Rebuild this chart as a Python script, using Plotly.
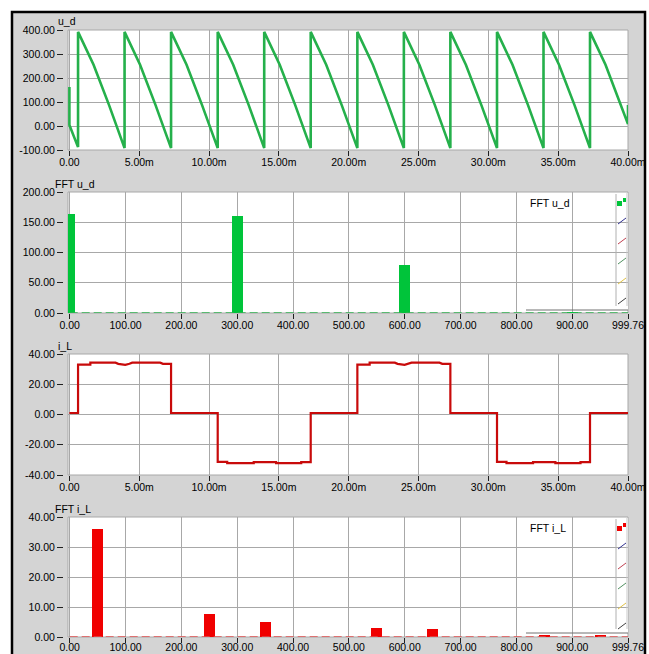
import plotly.graph_objects as go

# ---------------- data ----------------
# u_d (time in ms, value in V)
ud_t = [0.00, 0.00, 0.62, 0.62, 1.73, 2.84, 3.95, 3.95, 5.06, 6.17, 7.28, 7.28, 8.39, 9.50,
        10.62, 10.62, 11.73, 12.84, 13.95, 13.95, 15.06, 16.17, 17.28, 17.28, 18.39, 19.50,
        20.62, 20.62, 21.73, 22.84, 23.95, 23.95, 25.06, 26.17, 27.28, 27.28, 28.39, 29.50,
        30.62, 30.62, 31.73, 32.84, 33.95, 33.95, 35.06, 36.17, 37.28, 37.28, 38.39, 39.50,
        40.00, 40.00]
ud_v = [162, 4, -88, 392, 255, 87, -92, 392, 255, 87, -92, 392, 255, 87,
        -92, 392, 255, 87, -92, 392, 255, 87, -92, 392, 255, 87,
        -92, 392, 255, 87, -92, 392, 255, 87, -92, 392, 255, 87,
        -92, 392, 255, 87, -92, 392, 255, 87, -92, 392, 255, 87,
        8, 87]

# FFT u_d
fft_ud_f = [0, 300, 600, 900]
fft_ud_a = [163, 160, 79, 1.5]

# i_L (time in ms, value in A)
il_t = [0.00, 0.62, 0.62, 1.50, 1.50, 3.30, 3.50, 4.00, 4.30, 4.50, 6.50, 6.70, 7.28, 7.28,
        10.62, 10.62, 11.30, 11.30, 13.20, 13.20, 14.80, 14.80, 16.60, 16.60, 17.28, 17.28,
        20.62, 20.62, 21.50, 21.50, 23.30, 23.50, 24.00, 24.30, 24.50, 26.50, 26.70, 27.28, 27.28,
        30.62, 30.62, 31.30, 31.30, 33.20, 33.20, 34.80, 34.80, 36.60, 36.60, 37.28, 37.28, 40.00]
il_v = [1.0, 1.0, 33.0, 33.0, 34.3, 34.3, 33.5, 32.8, 33.5, 34.3, 34.3, 33.5, 33.5, 1.0,
        1.0, -31.3, -31.3, -32.2, -32.2, -31.5, -31.5, -32.2, -32.2, -31.5, -31.5, 1.0,
        1.0, 33.0, 33.0, 34.3, 34.3, 33.5, 32.8, 33.5, 34.3, 34.3, 33.5, 33.5, 1.0,
        1.0, -31.3, -31.3, -32.2, -32.2, -31.5, -31.5, -32.2, -32.2, -31.5, -31.5, 1.0, 1.0]

# FFT i_L
fft_il_f = [50, 250, 350, 550, 650, 850, 950]
fft_il_a = [36.0, 7.6, 5.1, 3.1, 2.8, 0.6, 0.6]

# ticks
time_ticks = [0, 5, 10, 15, 20, 25, 30, 35, 40]
time_labels = ["0.00", "5.00m", "10.00m", "15.00m", "20.00m", "25.00m", "30.00m", "35.00m", "40.00m"]
freq_ticks = [0, 100, 200, 300, 400, 500, 600, 700, 800, 900, 999.76]
freq_labels = ["0.00", "100.00", "200.00", "300.00", "400.00", "500.00", "600.00",
               "700.00", "800.00", "900.00", "999.76"]
ud_yticks = [-100, 0, 100, 200, 300, 400]
ud_ylabels = ["-100.00", "0.00", "100.00", "200.00", "300.00", "400.00"]
fud_yticks = [0, 50, 100, 150, 200]
fud_ylabels = ["0.00", "50.00", "100.00", "150.00", "200.00"]
il_yticks = [-40, -20, 0, 20, 40]
il_ylabels = ["-40.00", "-20.00", "0.00", "20.00", "40.00"]
fil_yticks = [0, 10, 20, 30, 40]
fil_ylabels = ["0.00", "10.00", "20.00", "30.00", "40.00"]

# ---------------- layout helpers ----------------
W, H = 649, 654
def px(x):
    return x / W
def py(y):
    return 1 - y / H

GRAY_BG = "#d4d4d4"
GRID = "#a8a8a8"
FONT = dict(family="Liberation Sans, Arial, sans-serif", size=10.5, color="#000000")
GREEN_LINE = "#25b04b"
GREEN_BAR = "#00c43a"
RED_LINE = "#c80a0a"
RED_BAR = "#f00000"

X0, X1 = 68, 628
panels = [  # (top px, bottom px)
    (30, 150),
    (192, 313),
    (354, 475),
    (517, 637),
]

fig = go.Figure()

fig.add_trace(go.Scatter(x=ud_t, y=ud_v, mode="lines", line=dict(color=GREEN_LINE, width=2.6),
                         xaxis="x", yaxis="y", showlegend=False))
fig.add_trace(go.Bar(x=fft_ud_f, y=fft_ud_a, width=20, marker=dict(color=GREEN_BAR, line=dict(width=0)),
                     xaxis="x2", yaxis="y2", showlegend=False))
fig.add_trace(go.Scatter(x=[freq_ticks[0], freq_ticks[-1]], y=[0, 0], mode="lines",
                         line=dict(color="#30b050", width=1.5, dash="8px,4px"),
                         xaxis="x2", yaxis="y2", showlegend=False))
fig.add_trace(go.Scatter(x=il_t, y=il_v, mode="lines", line=dict(color=RED_LINE, width=2.2),
                         xaxis="x3", yaxis="y3", showlegend=False))
fig.add_trace(go.Bar(x=fft_il_f, y=fft_il_a, width=20, marker=dict(color=RED_BAR, line=dict(width=0)),
                     xaxis="x4", yaxis="y4", showlegend=False))
fig.add_trace(go.Scatter(x=[freq_ticks[0], freq_ticks[-1]], y=[0, 0], mode="lines",
                         line=dict(color="#e05050", width=1.5, dash="8px,4px"),
                         xaxis="x4", yaxis="y4", showlegend=False))

layout = dict(
    template="none",
    width=W, height=H, autosize=False, margin=dict(l=0, r=0, t=0, b=0, pad=0, autoexpand=False),
    paper_bgcolor=GRAY_BG, plot_bgcolor="#ffffff",
    font=FONT, bargap=0, showlegend=False,
)

xspecs = [
    (time_ticks, time_labels, [-0.1, 40]),
    (freq_ticks, freq_labels, [-3, 999.76]),
    (time_ticks, time_labels, [-0.1, 40]),
    (freq_ticks, freq_labels, [-3, 999.76]),
]
yspecs = [
    (ud_yticks, ud_ylabels, [-100, 400]),
    (fud_yticks, fud_ylabels, [0, 200]),
    (il_yticks, il_ylabels, [-40, 40]),
    (fil_yticks, fil_ylabels, [0, 40]),
]
for i, ((top, bot), (xt, xl, xr), (yt, yl, yr)) in enumerate(zip(panels, xspecs, yspecs)):
    n = "" if i == 0 else str(i + 1)
    layout["xaxis" + n] = dict(
        domain=[px(X0), px(X1)], anchor="y" + n, range=xr, automargin=False,
        tickmode="array", tickvals=xt, ticktext=xl,
        showgrid=True, gridcolor=GRID, gridwidth=1, zeroline=False,
        showline=False, ticks="outside", ticklen=5, tickcolor="#202020", tickwidth=1,
        ticklabelstandoff=(-5 if i == 3 else -3),
        tickfont=FONT, fixedrange=True,
    )
    layout["yaxis" + n] = dict(
        domain=[py(bot), py(top)], anchor="free", position=px(63), range=yr, automargin=False,
        tickmode="array", tickvals=yt, ticktext=yl,
        showgrid=True, gridcolor=GRID, gridwidth=1, zeroline=False,
        showline=False, ticks="outside", ticklen=6, tickcolor="#202020", tickwidth=1,
        tickfont=FONT, fixedrange=True,
    )

shapes = []
annotations = []

# outer white margin and black frame
shapes.append(dict(type="rect", xref="paper", yref="paper", x0=0, x1=1, y0=py(11), y1=1,
                   fillcolor="#ffffff", line=dict(width=0), layer="above"))
shapes.append(dict(type="rect", xref="paper", yref="paper", x0=0, x1=px(11), y0=0, y1=1,
                   fillcolor="#ffffff", line=dict(width=0), layer="above"))
shapes.append(dict(type="rect", xref="paper", yref="paper", x0=px(646), x1=1, y0=0, y1=1,
                   fillcolor="#ffffff", line=dict(width=0), layer="above"))
shapes.append(dict(type="path", xref="paper", yref="paper",
                   path=f"M {px(12)} -0.01 L {px(12)} {py(12)} L {px(645)} {py(12)} L {px(645)} -0.01",
                   line=dict(color="#000000", width=2.5), layer="above"))

# plot area borders
for i in range(4):
    n = "" if i == 0 else str(i + 1)
    shapes.append(dict(type="rect", xref=f"x{n} domain", yref=f"y{n} domain", x0=0, x1=1, y0=0, y1=1,
                       line=dict(color=GRID, width=1), fillcolor="rgba(0,0,0,0)", layer="below"))

# titles
titles = [("u_d", 56, 21), ("FFT u_d", 53, 184), ("i_L", 56, 346), ("FFT i_L", 53, 509)]
for txt, x, y in titles:
    annotations.append(dict(text=txt, xref="paper", yref="paper", x=px(x), y=py(y),
                            xanchor="left", yanchor="middle", showarrow=False, font=FONT))

# legend-like boxes on FFT panels
def legend_box(top, bottom, label, sq_color):
    shapes.append(dict(type="rect", xref="paper", yref="paper",
                       x0=px(525), x1=px(628), y0=py(bottom), y1=py(top + 1),
                       fillcolor="#ffffff", line=dict(width=0), layer="between"))
    shapes.append(dict(type="line", xref="paper", yref="paper",
                       x0=px(526), x1=px(628), y0=py(bottom), y1=py(bottom),
                       line=dict(color="#707070", width=1), layer="above"))
    shapes.append(dict(type="line", xref="paper", yref="paper",
                       x0=px(616), x1=px(616), y0=py(bottom - 4), y1=py(top + 2),
                       line=dict(color="#b0b0b0", width=1), layer="above"))
    shapes.append(dict(type="line", xref="paper", yref="paper",
                       x0=px(627), x1=px(627), y0=py(bottom - 4), y1=py(top + 1),
                       line=dict(color="#c8c8c8", width=1), layer="above"))
    # marker squares
    shapes.append(dict(type="rect", xref="paper", yref="paper",
                       x0=px(617), x1=px(622), y0=py(top + 14), y1=py(top + 9),
                       fillcolor=sq_color, line=dict(width=0), layer="above"))
    shapes.append(dict(type="rect", xref="paper", yref="paper",
                       x0=px(623), x1=px(626), y0=py(top + 10), y1=py(top + 6),
                       fillcolor=sq_color, line=dict(width=0), layer="above"))
    icon_cols = ["#303090", "#c04050", "#509060", "#e0c040", "#404040"]
    for k, c in enumerate(icon_cols):
        yc = top + 29 + 20 * k
        shapes.append(dict(type="line", xref="paper", yref="paper",
                           x0=px(618), x1=px(626), y0=py(yc + 3), y1=py(yc - 3),
                           line=dict(color=c, width=1), layer="above"))
    annotations.append(dict(text=label, xref="paper", yref="paper", x=px(528), y=py(top + 11),
                            xanchor="left", yanchor="middle", showarrow=False,
                            font=dict(family=FONT["family"], size=10.5, color="#000000")))

legend_box(192, 310, "FFT u_d", GREEN_BAR)
legend_box(517, 633, "FFT i_L", RED_BAR)

layout["shapes"] = shapes
layout["annotations"] = annotations
fig.update_layout(**layout)

fig.write_html(
    "out.html",
    config={"displayModeBar": False, "responsive": False},
    post_script=(
        "document.documentElement.style.margin='0';"
        "document.documentElement.style.overflow='hidden';"
        "document.body.style.margin='0';document.body.style.padding='0';"
        "document.body.style.overflow='hidden';"
    ),
)
